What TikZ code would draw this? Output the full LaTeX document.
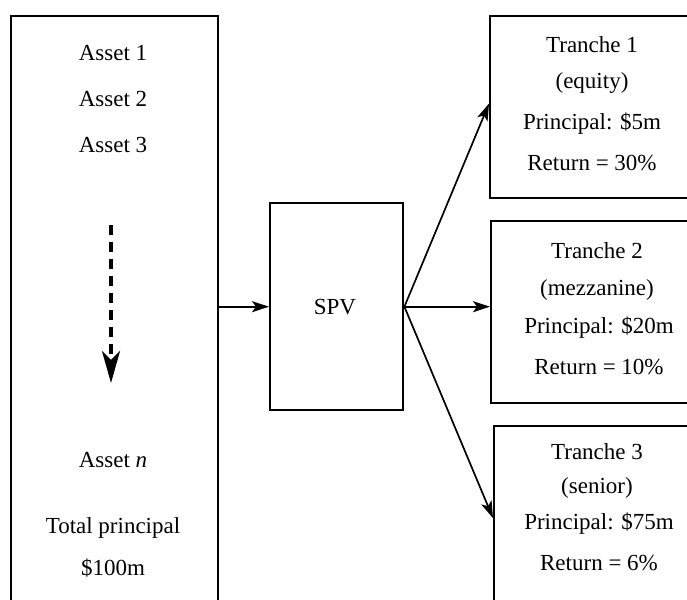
\documentclass[tikz,border=0pt]{standalone}
\usepackage{fontspec}
\setmainfont{Liberation Serif}
\usetikzlibrary{arrows.meta,calc}
\begin{document}
\begin{tikzpicture}[x=1pt,y=-1pt,
  box/.style={draw, line width=2.4pt, rectangle, inner sep=0pt, anchor=north west},
  txt/.style={font=\fontsize{23}{27}\selectfont, inner sep=0pt},
  conn/.style={line width=1.7pt, -{Stealth[length=17pt,width=11pt,inset=4pt]}},
  dashconn/.style={line width=3.2pt, dash pattern=on 10pt off 7pt, -{Stealth[length=32pt,width=18pt,inset=9pt]}}]
\useasboundingbox (0,0) rectangle (687,599);
\clip (0,0) rectangle (687,599);
% boxes
\node[box, minimum width=207pt, minimum height=620pt] (assets) at (10,15) {};
\node[box, minimum width=133pt, minimum height=207pt] (spv) at (269,202) {};
\node[box, minimum width=220pt, minimum height=182pt] (t1) at (489,15) {};
\node[box, minimum width=220pt, minimum height=182pt] (t2) at (490,220) {};
\node[box, minimum width=220pt, minimum height=200pt] (t3) at (493,425) {};
% asset texts
\node[txt] (a1) at (113,53) {Asset 1};
\node[txt] (a2) at (113,99) {Asset 2};
\node[txt] (a3) at (113,145) {Asset 3};
\node[txt] (an) at (113,460) {Asset \textit{n}};
\node[txt] (tp) at (113,528) {Total principal};
\node[txt] (tv) at (113,568) {\$100m};
% dashed arrow
\coordinate (d1) at (111,225);
\coordinate (d2) at (111,383);
\draw[dashconn] (d1) -- (d2);
% SPV
\node[txt] (spvt) at (335,307) {SPV};
% tranche texts
\node[txt] (t1a) at (592,45) {Tranche 1};
\node[txt] (t1b) at (592,83) {(equity)};
\node[txt] (t1c) at (592,124) {Principal: \$5m};
\node[txt] (t1d) at (592,163) {Return = 30\%};
\node[txt] (t2a) at (597,251) {Tranche 2};
\node[txt] (t2b) at (597,290) {(mezzanine)};
\node[txt] (t2c) at (599,328) {Principal: \$20m};
\node[txt] (t2d) at (599,367) {Return = 10\%};
\node[txt] (t3a) at (597,452) {Tranche 3};
\node[txt] (t3b) at (597,488) {(senior)};
\node[txt] (t3c) at (599,524) {Principal: \$75m};
\node[txt] (t3d) at (599,563) {Return = 6\%};
% connectors
\draw[conn] (spv.west -| assets.east) -- (spv.west);
\draw[conn] (spv.east) -- ($(t1.north west)!0.48!(t1.south west)$);
\draw[conn] (spv.east) -- (spv.east -| t2.west);
\draw[conn] (spv.east) -- ($(t3.north west)!0.46!(t3.south west)$);
\end{tikzpicture}
\end{document}
